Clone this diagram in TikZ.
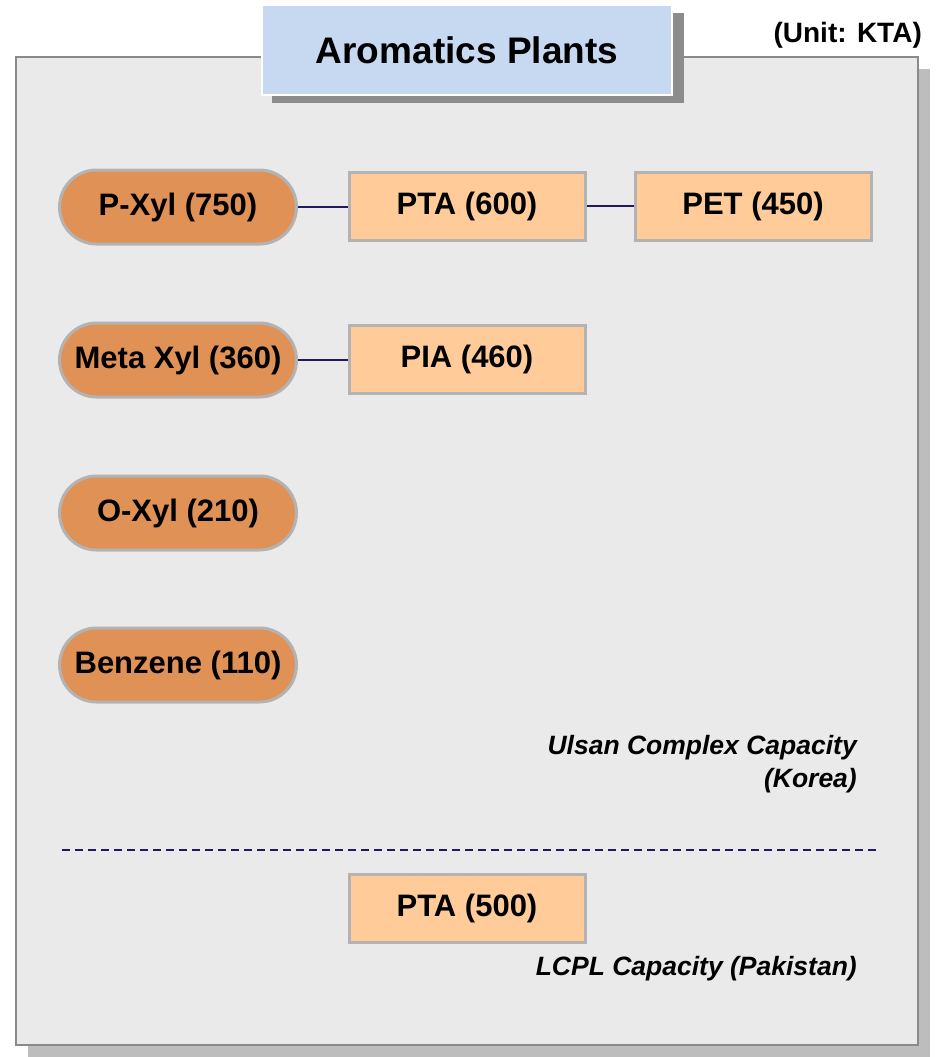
\documentclass[tikz,border=0pt]{standalone}
\usepackage{fontspec}
\setmainfont{Liberation Sans}
\definecolor{panelfill}{HTML}{EAEAEA}
\definecolor{panelline}{HTML}{8A8A8A}
\definecolor{panelshadow}{HTML}{BDBDBD}
\definecolor{titlefill}{HTML}{C6D9F0}
\definecolor{titleshadow}{HTML}{8C8C8C}
\definecolor{ovalfill}{HTML}{E09155}
\definecolor{rectfill}{HTML}{FFCC99}
\definecolor{nodeline}{HTML}{B3B3B3}
\definecolor{navy}{HTML}{1F1A5E}
\begin{document}
\begin{tikzpicture}[x=1pt,y=-1pt,
  ovalbox/.style={draw=nodeline, line width=3pt, fill=ovalfill, rounded corners=37pt,
    minimum width=237pt, minimum height=74pt, inner sep=0pt,
    font=\fontsize{31}{36}\selectfont\bfseries},
  rectbox/.style={draw=nodeline, line width=3pt, fill=rectfill,
    minimum width=236pt, minimum height=68pt, inner sep=0pt,
    font=\fontsize{31}{36}\selectfont\bfseries},
  capnote/.style={anchor=east, inner sep=0pt, font=\fontsize{26.5}{30}\selectfont\bfseries\itshape},
  link/.style={draw=navy, line width=2pt}]
\useasboundingbox (0,0) rectangle (940,1057);
% panel
\fill[panelshadow] (28,69) rectangle (930,1057);
\draw[panelline, line width=2pt, fill=panelfill] (16,57) rectangle (918,1045);
% title
\fill[titleshadow] (272,13) rectangle (684,103);
\node[draw=white, line width=2pt, fill=titlefill, minimum width=410pt, minimum height=90pt,
  inner sep=0pt, font=\fontsize{37}{42}\selectfont\bfseries] (title) at (467,50) {Aromatics Plants};
\node[anchor=east, inner sep=0pt, font=\fontsize{28}{32}\selectfont\bfseries] (unit) at (922,35) {(Unit: KTA)};
% nodes
\node[ovalbox] (pxyl) at (178,207) {P-Xyl (750)};
\node[ovalbox] (mxyl) at (178,360) {Meta Xyl (360)};
\node[ovalbox] (oxyl) at (178,513) {O-Xyl (210)};
\node[ovalbox] (benz) at (178,665) {Benzene (110)};
\node[rectbox] (pta) at (467,206) {PTA (600)};
\node[rectbox] (pet) at (753,206) {PET (450)};
\node[rectbox] (pia) at (467,359) {PIA (460)};
\node[rectbox] (pta2) at (467,908) {PTA (500)};
% links
\draw[link] (pxyl.east) -- (pta.west |- pxyl.east);
\draw[link] (pta.east) -- (pet.west);
\draw[link] (mxyl.east) -- (pia.west |- mxyl.east);
% notes
\node[capnote] (ulsan) at (857,748) {Ulsan Complex Capacity};
\node[capnote] (korea) at (857,781) {(Korea)};
\node[capnote] (lcpl) at (857,969) {LCPL Capacity (Pakistan)};
% divider
\coordinate (dl) at (62,850);
\coordinate (dr) at (877,850);
\draw[navy, line width=2pt, dash pattern=on 8pt off 5pt] (dl) -- (dr);
\end{tikzpicture}
\end{document}
